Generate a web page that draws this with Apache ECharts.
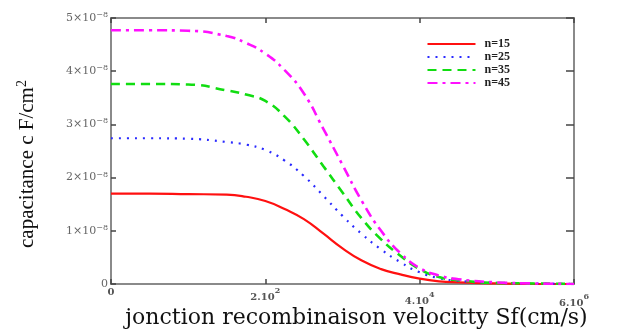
<!DOCTYPE html>
<html>
<head>
<meta charset="utf-8">
<script src="https://cdn.jsdelivr.net/npm/echarts@6/dist/echarts.min.js"></script>
<style>
  html, body { margin: 0; padding: 0; background: #fff; }
  #chart { width: 627px; height: 332px; }
</style>
</head>
<body>
<div id="chart"></div>
<script>
// x = log10 position on axis (0..6), values in F/cm2
const xs = [0, 0.5, 1, 1.5, 1.75, 2, 2.25, 2.5, 2.75, 3, 3.25, 3.5, 3.75, 4, 4.25, 4.5, 5, 5.5, 6];
const n15 = [1.70, 1.70, 1.69, 1.68, 1.64, 1.56, 1.41, 1.22, 0.95, 0.67, 0.44, 0.28, 0.18, 0.10, 0.05, 0.03, 0.01, 0.00, 0.00];
const n25 = [2.74, 2.74, 2.73, 2.67, 2.62, 2.52, 2.32, 2.03, 1.66, 1.28, 0.94, 0.65, 0.41, 0.22, 0.11, 0.06, 0.02, 0.01, 0.00];
const n35 = [3.76, 3.76, 3.75, 3.64, 3.56, 3.44, 3.15, 2.72, 2.22, 1.72, 1.23, 0.84, 0.53, 0.28, 0.13, 0.07, 0.02, 0.01, 0.00];
const n45 = [4.77, 4.77, 4.76, 4.66, 4.53, 4.33, 4.02, 3.58, 2.92, 2.24, 1.56, 1.00, 0.58, 0.30, 0.16, 0.09, 0.03, 0.01, 0.00];
const scale = 1e-8;
const xTickLabels = {
  0: '{a|0}',
  2: '{b|2.10}{sb|2}',
  4: '{c|4.10}{sc|4}',
  6: '{d|6.10}{sd|6}',
};

const chart = echarts.init(document.getElementById('chart'));
const frame = '#8a8a8a';
const tickFont = { fontFamily: 'DejaVu Serif', fontSize: 10, fontWeight: 'bold', color: '#555' };
const supFont = { fontFamily: 'DejaVu Serif', fontSize: 8, fontWeight: 'bold', color: '#555', verticalAlign: 'top' };

function pts(vals) {
  return xs.map((x, i) => [x, vals[i] * scale]);
}

function line(name, vals, color, type, width) {
  return {
    name: name,
    type: 'line',
    data: pts(vals),
    smooth: 0.5,
    symbol: 'none',
    lineStyle: { color: color, type: type, width: width },
    itemStyle: { color: color },
  };
}

chart.setOption({
  animation: false,
  grid: {
    left: 111, right: 53, top: 18, bottom: 48,
    outerBoundsMode: 'none',
    show: true, borderColor: frame, borderWidth: 2,
  },
  legend: {
    orient: 'vertical',
    right: 112,
    top: 33,
    itemWidth: 48,
    itemHeight: 8,
    itemGap: 1,
    itemStyle: { color: 'transparent', borderWidth: 0, opacity: 0 },
    textStyle: { fontFamily: 'Liberation Serif', fontWeight: 'bold', fontSize: 12, color: '#222', padding: [0, 0, 0, 4] },
    data: ['n=15', 'n=25', 'n=35', 'n=45'],
  },
  xAxis: [
    {
      type: 'value', min: 0, max: 6, interval: 2,
      name: 'jonction recombinaison velocitty Sf(cm/s)',
      nameLocation: 'middle', nameGap: 23, nameMoveOverlap: false,
      nameTextStyle: { fontFamily: 'DejaVu Serif', fontSize: 22, color: '#111', padding: [0, 0, 0, 28] },
      axisLine: { show: true, onZero: false, lineStyle: { color: frame, width: 2 } },
      axisTick: { show: true, inside: true, length: 5, lineStyle: { color: '#444', width: 1.5 } },
      splitLine: { show: false },
      axisLabel: {
        margin: 3,
        formatter: (v) => xTickLabels[v] || '',
        rich: {
          a: Object.assign({}, tickFont, { padding: [0, 0, 0, 0] }),
          b: Object.assign({}, tickFont, { padding: [5, 0, 0, 0] }),
          sb: Object.assign({}, supFont, { padding: [0, 0, 0, 0] }),
          c: Object.assign({}, tickFont, { padding: [9, 0, 0, 0] }),
          sc: Object.assign({}, supFont, { padding: [4, 0, 0, 0] }),
          d: Object.assign({}, tickFont, { padding: [11, 0, 0, 0] }),
          sd: Object.assign({}, supFont, { padding: [6, 0, 0, 0] }),
        },
      },
    },
    {
      type: 'value', min: 0, max: 6, interval: 2, position: 'top',
      axisLine: { show: true, onZero: false, lineStyle: { color: frame, width: 2 } },
      axisTick: { show: true, inside: true, length: 5, lineStyle: { color: '#444', width: 1.5 } },
      axisLabel: { show: false }, splitLine: { show: false },
    },
  ],
  yAxis: [
    {
      type: 'value', min: 0, max: 5 * scale, interval: scale,
      name: 'capacitance c F/cm{s|2}',
      nameLocation: 'middle', nameGap: 72, nameRotate: 90, nameMoveOverlap: false,
      nameTextStyle: {
        fontFamily: 'Liberation Serif', fontSize: 21, color: '#111', padding: [0, 26, 0, 0],
        rich: { s: { fontFamily: 'Liberation Serif', fontSize: 14, color: '#111', verticalAlign: 'top', padding: [0, 0, 10, 0] } },
      },
      axisLine: { show: true, onZero: false, lineStyle: { color: frame, width: 2 } },
      axisTick: { show: true, inside: true, length: 5, lineStyle: { color: '#444', width: 1.5 } },
      splitLine: { show: false },
      axisLabel: {
        margin: 3,
        fontFamily: 'DejaVu Serif', fontSize: 11, color: '#666',
        formatter: (v) => {
          const k = Math.round(v / scale);
          return k === 0 ? '0' : k + '\u00d710{s|\u22128}';
        },
        rich: { s: { fontFamily: 'DejaVu Serif', fontSize: 8, color: '#666', verticalAlign: 'top', padding: [0, 0, 6, 0] } },
      },
    },
    {
      type: 'value', min: 0, max: 5 * scale, interval: scale, position: 'right',
      axisLine: { show: true, onZero: false, lineStyle: { color: frame, width: 2 } },
      axisTick: { show: true, inside: true, length: 8, lineStyle: { color: '#444', width: 1.5 } },
      axisLabel: { show: false }, splitLine: { show: false },
    },
  ],
  series: [
    line('n=15', n15, '#ff1010', 'solid', 2.2),
    line('n=25', n25, '#2a2aff', [2, 6], 2.2),
    line('n=35', n35, '#11dd11', [9, 6], 2.6),
    line('n=45', n45, '#ff10ff', [10, 5, 3, 5], 2.6),
    // empty series so the mirrored top/right axes get drawn
    { type: 'line', xAxisIndex: 1, yAxisIndex: 1, data: [], symbol: 'none' },
  ],
});
</script>
</body>
</html>
